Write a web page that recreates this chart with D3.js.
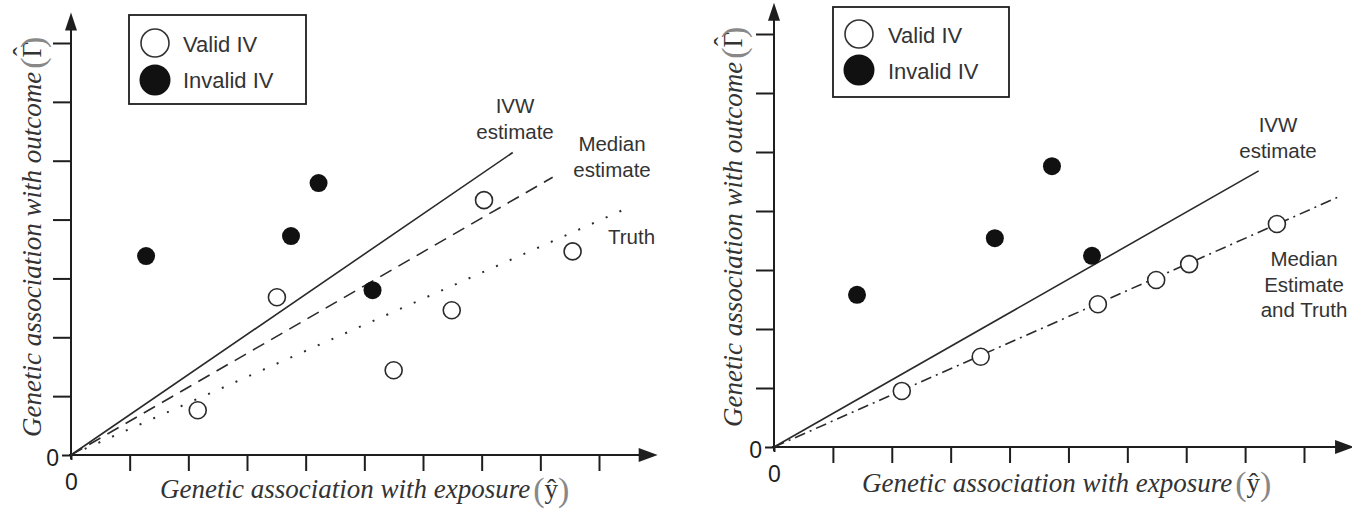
<!DOCTYPE html>
<html>
<head>
<meta charset="utf-8">
<script src="https://cdn.jsdelivr.net/npm/d3@7"></script>
<style>
  html, body { margin: 0; padding: 0; background: #fff; }
  svg { display: block; }
</style>
</head>
<body>
<svg id="chart" width="1352" height="513"></svg>
<script>
// ---------------- data (axis units = tick steps) -------------
const xTickValues = [1, 2, 3, 4, 5, 6, 7, 8, 9];
const yTickValues = [1, 2, 3, 4, 5, 6, 7];
const zeroLabel = "0";

const legendLabels = ["Valid IV", "Invalid IV"];

// Left panel
const leftValidX   = [2.16, 3.51, 5.50, 6.49, 7.04, 8.55];
const leftValidY   = [0.76, 2.68, 1.44, 2.46, 4.33, 3.46];
const leftInvalidX = [1.28, 3.75, 4.22, 5.14];
const leftInvalidY = [3.38, 3.72, 4.62, 2.80];
const leftLineNames = ["IVW", "Median", "Truth"];
const leftLineEndX  = [7.53, 8.21, 9.47];
const leftLineEndY  = [5.14, 4.72, 4.19];
const leftLineLabels = [["IVW", "estimate"], ["Median", "estimate"], ["Truth"]];

// Right panel
const rightValidX   = [2.17, 3.51, 5.50, 6.49, 7.05, 8.54];
const rightValidY   = [0.95, 1.53, 2.42, 2.83, 3.10, 3.78];
const rightInvalidX = [1.41, 3.75, 4.72, 5.40];
const rightInvalidY = [2.58, 3.54, 4.76, 3.24];
const rightLineNames = ["IVW", "MedianTruth"];
const rightLineEndX  = [8.23, 9.59];
const rightLineEndY  = [4.68, 4.24];
const rightLineLabels = [["IVW", "estimate"], ["Median", "Estimate", "and Truth"]];

const xAxisTitle = "Genetic association with exposure";
const yAxisTitle = "Genetic association with outcome";
const xHat = "ŷ";
const yGamma = "Γ";
const hatMark = "ˆ";

// ---------------- layout / styles ----------------
const svg = d3.select("#chart");
const ink = "#1e1e1e";
const textInk = "#333";
const sans = "'Liberation Sans', Arial, sans-serif";
const serif = "'Liberation Serif', 'Times New Roman', serif";

const panels = [
  {
    px: [71, 599], py: [455, 43], xArrowEnd: 10.0, yArrowEnd: 7.52,
    validX: leftValidX, validY: leftValidY,
    invalidX: leftInvalidX, invalidY: leftInvalidY,
    lineEndX: leftLineEndX, lineEndY: leftLineEndY,
    dashes: [null, "13,8", "2,13"],
    labels: leftLineLabels,
    labelPos: [{x: 515, y: 113, anchor: "middle"}, {x: 612, y: 151, anchor: "middle"}, {x: 608, y: 244, anchor: "start"}],
    legend: {x: 129, y: 15, w: 177, h: 89, cx: 155, cy: [43, 80], tx: 183, ty: [52, 88]},
    xTitle: {x: 160, y: 498}, yTitle: {x: 41, y: 437}
  },
  {
    px: [774, 1304], py: [447, 34], xArrowEnd: 9.85, yArrowEnd: 7.53,
    validX: rightValidX, validY: rightValidY,
    invalidX: rightInvalidX, invalidY: rightInvalidY,
    lineEndX: rightLineEndX, lineEndY: rightLineEndY,
    dashes: [null, "11,5,2,5"],
    labels: rightLineLabels,
    labelPos: [{x: 1278, y: 132, anchor: "middle"}, {x: 1304, y: 266, anchor: "middle"}],
    legend: {x: 833, y: 7, w: 176, h: 90, cx: 859, cy: [34, 70], tx: 888, ty: [43, 79]},
    xTitle: {x: 862, y: 492}, yTitle: {x: 742, y: 427}
  }
];

panels.forEach(p => {
  const x = d3.scaleLinear().domain([0, 9]).range(p.px);
  const y = d3.scaleLinear().domain([0, 7]).range(p.py);
  const g = svg.append("g");
  const ox = x(0), oy = y(0);

  // x ticks
  const xa = g.append("g").attr("transform", `translate(0,${oy})`)
    .call(d3.axisBottom(x).tickValues(xTickValues).tickSize(16).tickFormat(""));
  xa.select(".domain").remove();
  const x0 = g.append("g").attr("transform", `translate(0,${oy})`)
    .call(d3.axisBottom(x).tickValues([0]).tickSize(5).tickPadding(14).tickFormat(() => zeroLabel));
  x0.select(".domain").remove();

  // y ticks
  const ya = g.append("g").attr("transform", `translate(${ox},0)`)
    .call(d3.axisLeft(y).tickValues(yTickValues).tickSize(18).tickFormat(""));
  ya.select(".domain").remove();
  const y0 = g.append("g").attr("transform", `translate(${ox},0)`)
    .call(d3.axisLeft(y).tickValues([0]).tickSize(9).tickPadding(3).tickFormat(() => zeroLabel));
  y0.select(".domain").remove();

  g.selectAll(".tick line").attr("stroke", ink).attr("stroke-width", 2);
  g.selectAll(".tick text").attr("font-family", sans).attr("font-size", 23).attr("fill", ink);
  y0.selectAll(".tick text").attr("dy", "0.45em");

  // axis lines with arrow heads
  const xEnd = x(p.xArrowEnd), yEnd = y(p.yArrowEnd);
  g.append("line").attr("x1", ox - 2).attr("x2", xEnd - 10).attr("y1", oy).attr("y2", oy)
    .attr("stroke", ink).attr("stroke-width", 2);
  g.append("line").attr("x1", ox).attr("x2", ox).attr("y1", oy + 4).attr("y2", yEnd + 10)
    .attr("stroke", ink).attr("stroke-width", 2);
  g.append("path").attr("d", `M${xEnd},${oy} L${xEnd - 19},${oy - 7} L${xEnd - 19},${oy + 7} Z`).attr("fill", ink);
  g.append("path").attr("d", `M${ox},${yEnd} L${ox - 6},${yEnd + 18} L${ox + 6},${yEnd + 18} Z`).attr("fill", ink);

  // lines through origin
  const lineGen = d3.line().x(d => x(d[0])).y(d => y(d[1]));
  p.lineEndX.forEach((ex, i) => {
    const path = g.append("path")
      .attr("d", lineGen([[0, 0], [ex, p.lineEndY[i]]]))
      .attr("fill", "none").attr("stroke", "#2a2a2a").attr("stroke-width", 1.6);
    if (p.dashes[i]) path.attr("stroke-dasharray", p.dashes[i]);
    if (p.dashes[i] === "2,13") path.attr("stroke-width", 2);
  });

  // line labels
  p.labels.forEach((lines, i) => {
    const lp = p.labelPos[i];
    const t = g.append("text").attr("font-family", sans).attr("font-size", 20.5)
      .attr("fill", textInk).attr("text-anchor", lp.anchor);
    lines.forEach((s, k) => {
      t.append("tspan").attr("x", lp.x).attr("y", lp.y + k * 25.5).text(s);
    });
  });

  // points
  const valid = p.validX.map((v, i) => [v, p.validY[i]]);
  const invalid = p.invalidX.map((v, i) => [v, p.invalidY[i]]);
  g.selectAll("circle.valid").data(valid).enter().append("circle")
    .attr("class", "valid").attr("cx", d => x(d[0])).attr("cy", d => y(d[1])).attr("r", 8.5)
    .attr("fill", "#fff").attr("stroke", "#2a2a2a").attr("stroke-width", 1.6);
  g.selectAll("circle.invalid").data(invalid).enter().append("circle")
    .attr("class", "invalid").attr("cx", d => x(d[0])).attr("cy", d => y(d[1])).attr("r", 9)
    .attr("fill", "#111");

  // legend
  const L = p.legend;
  g.append("rect").attr("x", L.x).attr("y", L.y).attr("width", L.w).attr("height", L.h)
    .attr("fill", "#fff").attr("stroke", ink).attr("stroke-width", 1.8);
  g.append("circle").attr("cx", L.cx).attr("cy", L.cy[0]).attr("r", 14)
    .attr("fill", "#fff").attr("stroke", "#333").attr("stroke-width", 1.6);
  g.append("circle").attr("cx", L.cx).attr("cy", L.cy[1]).attr("r", 15.5).attr("fill", "#111");
  legendLabels.forEach((s, i) => {
    g.append("text").attr("x", L.tx).attr("y", L.ty[i]).attr("font-family", sans)
      .attr("font-size", 22).attr("fill", textInk).text(s);
  });

  // axis titles
  const xt = g.append("text").attr("x", p.xTitle.x).attr("y", p.xTitle.y)
    .attr("font-family", serif).attr("fill", "#333");
  xt.append("tspan").attr("font-style", "italic").attr("font-size", 27).text(xAxisTitle);
  xt.append("tspan").attr("font-size", 34).attr("fill", "#888").attr("dx", 3).attr("dy", 3).text("(");
  xt.append("tspan").attr("font-size", 27).attr("dy", -3).text(xHat);
  xt.append("tspan").attr("font-size", 34).attr("fill", "#888").attr("dy", 3).text(")");

  const yt = g.append("text").attr("transform", `translate(${p.yTitle.x},${p.yTitle.y}) rotate(-90)`)
    .attr("font-family", serif).attr("fill", "#333");
  yt.append("tspan").attr("font-style", "italic").attr("font-size", 27).text(yAxisTitle);
  yt.append("tspan").attr("font-size", 34).attr("fill", "#888").attr("dx", 3).attr("dy", 3).text("(");
  yt.append("tspan").attr("font-size", 27).attr("dy", -3).text(yGamma);
  yt.append("tspan").attr("font-size", 27).attr("dx", -14).attr("dy", -9).text(hatMark);
  yt.append("tspan").attr("font-size", 34).attr("fill", "#888").attr("dx", -1).attr("dy", 12).text(")");
});
</script>
</body>
</html>
